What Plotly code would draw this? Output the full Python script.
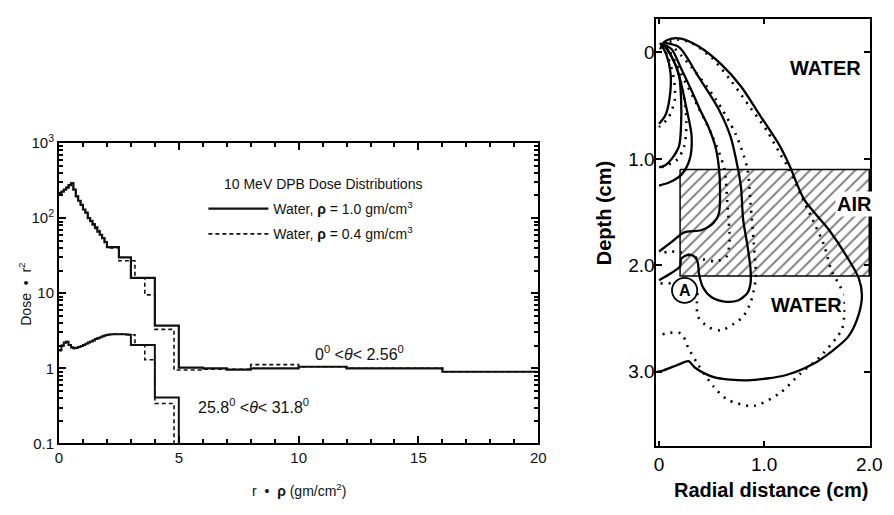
import plotly.graph_objects as go

# ---------------- Left panel data (step histograms) ----------------
up_edges_solid = [0, 0.1, 0.2, 0.3, 0.4, 0.5, 0.6, 0.7, 0.8, 0.9, 1.0, 1.1, 1.2, 1.3, 1.4, 1.5,
                  1.6, 1.7, 1.8, 1.9, 2.0, 2.5, 3.0, 4.0, 5.0, 6.0, 7.0, 8.0, 10.0, 12.0, 16.0, 20.0]
up_vals_solid = [215, 225, 240, 255, 275, 290, 240, 195, 170, 150, 130, 118, 100, 92, 82, 75,
                 66, 60, 54, 48, 41, 30, 16, 3.7, 1.02, 1.0, 0.96, 1.0, 1.05, 1.0, 0.9]

up_edges_dash = [0, 0.1, 0.2, 0.3, 0.4, 0.5, 0.6, 0.7, 0.8, 0.9, 1.0, 1.1, 1.2, 1.3, 1.4, 1.5,
                 1.6, 1.7, 1.8, 1.9, 2.0, 2.5, 3.17, 3.58, 4.0, 4.8, 6.0, 7.0, 8.0, 10.0, 12.0, 16.0, 20.0]
up_vals_dash = [212, 228, 238, 258, 272, 292, 235, 198, 168, 152, 135, 115, 102, 90, 84, 73,
                68, 58, 55, 47, 40, 27, 16, 9.5, 3.3, 0.95, 0.97, 0.97, 1.12, 1.05, 1.0, 0.9]

lo_edges_solid = [0, 0.1, 0.2, 0.3, 0.4, 0.5, 0.6, 0.7, 0.8, 0.9, 1.0, 1.1, 1.2, 1.3, 1.4, 1.5,
                  1.6, 1.7, 1.8, 1.9, 2.0, 2.1, 2.2, 2.3, 2.4, 2.5, 2.6, 2.7, 2.8, 2.9, 3.0,
                  4.0, 5.0, 20.0]
lo_vals_solid = [1.75, 2.0, 2.2, 2.25, 2.05, 1.9, 1.85, 1.88, 1.92, 1.98, 2.05, 2.12, 2.2, 2.28,
                 2.35, 2.45, 2.52, 2.6, 2.68, 2.75, 2.8, 2.82, 2.85, 2.85, 2.85, 2.85, 2.85, 2.85,
                 2.83, 2.8, 2.05, 0.41, 0.02]

lo_edges_dash = [0, 0.1, 0.2, 0.3, 0.4, 0.5, 0.6, 0.7, 0.8, 0.9, 1.0, 1.1, 1.2, 1.3, 1.4, 1.5,
                 1.6, 1.7, 1.8, 1.9, 2.0, 2.1, 2.2, 2.3, 2.4, 2.5, 2.6, 2.7, 2.8, 2.9, 3.0,
                 3.17, 3.58, 4.0, 4.8, 20.0]
lo_vals_dash = [1.72, 2.02, 2.18, 2.27, 2.03, 1.9, 1.84, 1.87, 1.93, 1.97, 2.06, 2.1, 2.21, 2.27,
                2.36, 2.44, 2.53, 2.6, 2.67, 2.76, 2.8, 2.83, 2.84, 2.86, 2.85, 2.84, 2.86, 2.85,
                2.82, 2.8, 2.8, 2.05, 1.3, 0.34, 0.02]

left_yticks = [0.1, 1, 10, 100, 1000]
left_yticktext = ["0.1", "1", "10", "10<sup>2</sup>", "10<sup>3</sup>"]
left_xticks = [0, 5, 10, 15, 20]

# ---------------- Right panel data (depth-dose contours) ----------------
# solid contours (x = radial distance cm, d = depth cm)
c1_x = [0.01, 0.07, 0.11, 0.10, 0.06, 0.00]
c1_d = [-0.09, 0.02, 0.20, 0.43, 0.59, 0.67]
c2_x = [0.03, 0.12, 0.19, 0.21, 0.21, 0.19, 0.12, 0.06, 0.00]
c2_d = [-0.09, 0.04, 0.22, 0.45, 0.67, 0.88, 1.00, 1.06, 1.08]
c3_x = [0.06, 0.17, 0.26, 0.31, 0.29, 0.21, 0.10, 0.00]
c3_d = [-0.07, 0.15, 0.52, 0.79, 1.01, 1.15, 1.22, 1.25]
c4_x = [0.05, 0.12, 0.21, 0.31, 0.40, 0.47, 0.54, 0.57, 0.58, 0.57, 0.52, 0.40, 0.24, 0.12, 0.00]
c4_d = [-0.07, -0.03, 0.15, 0.36, 0.56, 0.70, 0.90, 1.09, 1.27, 1.51, 1.60, 1.67, 1.69, 1.78, 1.87]
c5_x = [0.05, 0.19, 0.37, 0.56, 0.68, 0.75, 0.78, 0.80, 0.84, 0.87, 0.87, 0.84, 0.75, 0.62, 0.50,
        0.42, 0.38, 0.37, 0.34, 0.28, 0.21, 0.20, 0.12, 0.00]
c5_d = [-0.09, -0.05, 0.22, 0.52, 0.79, 1.09, 1.27, 1.57, 1.81, 2.03, 2.17, 2.26, 2.33, 2.34, 2.30,
        2.21, 2.08, 1.98, 1.92, 1.90, 1.94, 2.01, 2.07, 2.14]
c6_x = [0.01, 0.05, 0.12, 0.21, 0.37, 0.59, 0.78, 0.96, 1.15, 1.24, 1.38, 1.62, 1.80, 1.90, 1.93,
        1.90, 1.80, 1.64, 1.46, 1.21, 0.84, 0.52, 0.34, 0.28, 0.19, 0.03, -0.02]
c6_d = [-0.03, -0.10, -0.13, -0.13, -0.06, 0.11, 0.32, 0.59, 0.88, 1.06, 1.38, 1.67, 1.94, 2.12, 2.28,
        2.46, 2.67, 2.81, 2.93, 3.03, 3.08, 3.05, 2.96, 2.90, 2.93, 2.99, 3.00]

# dotted contours
p1_x = [0.03, 0.09, 0.14, 0.15, 0.09, 0.00]
p1_d = [-0.07, 0.06, 0.24, 0.44, 0.61, 0.70]
p2_x = [0.06, 0.16, 0.23, 0.26, 0.24, 0.17, 0.07, 0.00]
p2_d = [-0.07, 0.11, 0.38, 0.65, 0.88, 1.01, 1.06, 1.09]
p4_x = [0.07, 0.21, 0.36, 0.50, 0.62, 0.65, 0.67, 0.64, 0.54, 0.36, 0.21, 0.09, 0.00]
p4_d = [-0.07, 0.20, 0.49, 0.77, 1.09, 1.42, 1.78, 1.92, 1.96, 1.93, 1.88, 1.87, 1.90]
p5_x = [0.10, 0.31, 0.54, 0.73, 0.84, 0.87, 0.90, 0.92, 0.90, 0.87, 0.80, 0.71, 0.59, 0.47, 0.37,
        0.36, 0.36, 0.28, 0.12, 0.00]
p5_d = [-0.09, 0.14, 0.44, 0.77, 1.09, 1.42, 1.78, 2.12, 2.24, 2.35, 2.48, 2.55, 2.61, 2.58, 2.48,
        2.35, 2.25, 2.20, 2.17, 2.17]
p6_x = [0.03, 0.17, 0.31, 0.50, 0.68, 0.87, 1.03, 1.15, 1.24, 1.36, 1.46, 1.57, 1.64, 1.74, 1.76,
        1.74, 1.68, 1.52, 1.34, 1.15, 0.90, 0.65, 0.52, 0.37, 0.28, 0.21, 0.06, 0.00]
p6_d = [-0.07, -0.12, -0.09, 0.05, 0.26, 0.52, 0.74, 0.95, 1.10, 1.36, 1.57, 1.81, 2.05, 2.24, 2.48,
        2.60, 2.69, 2.87, 3.02, 3.20, 3.32, 3.26, 3.14, 2.93, 2.78, 2.64, 2.64, 2.66]

air_x = [0.2, 2.0, 2.0, 0.2, 0.2]
air_d = [1.1, 1.1, 2.1, 2.1, 1.1]
right_ticks_y = [0, 1, 2, 3]
right_ticktext_y = ["0", "1.0", "2.0", "3.0"]
right_ticks_x = [0, 1, 2]
right_ticktext_x = ["0", "1.0", "2.0"]
point_A = (0.243, 2.235)

# ---------------- Figure ----------------
W, H = 894, 515
LFONT = "Liberation Sans, Arial, sans-serif"
INK = "#111111"

fig = go.Figure()


def step(edges, vals):
    return list(edges), list(vals) + [vals[-1]]


xs, ys = step(up_edges_solid, up_vals_solid)
fig.add_trace(go.Scatter(x=xs, y=ys, mode="lines", line=dict(color=INK, width=2.2, shape="hv"),
                         name="Water, <b>ρ</b> = 1.0 gm/cm<sup>3</sup>", legendgroup="s",
                         xaxis="x", yaxis="y"))
xs, ys = step(up_edges_dash, up_vals_dash)
fig.add_trace(go.Scatter(x=xs, y=ys, mode="lines",
                         line=dict(color=INK, width=1.6, shape="hv", dash="4px,3px"),
                         name="Water, <b>ρ</b> = 0.4 gm/cm<sup>3</sup>", legendgroup="d",
                         xaxis="x", yaxis="y"))
xs, ys = step(lo_edges_solid, lo_vals_solid)
fig.add_trace(go.Scatter(x=xs, y=ys, mode="lines", line=dict(color=INK, width=2.0, shape="hv"),
                         showlegend=False, xaxis="x", yaxis="y"))
xs, ys = step(lo_edges_dash, lo_vals_dash)
fig.add_trace(go.Scatter(x=xs, y=ys, mode="lines",
                         line=dict(color=INK, width=1.6, shape="hv", dash="4px,3px"),
                         showlegend=False, xaxis="x", yaxis="y"))

# air slab (hatched)
fig.add_trace(go.Scatter(x=air_x, y=air_d, mode="lines", fill="toself",
                         fillpattern=dict(shape="/", fgcolor="black", bgcolor="white",
                                          size=8, solidity=0.24),
                         line=dict(color="black", width=1.5), showlegend=False,
                         xaxis="x2", yaxis="y2", hoverinfo="skip"))

for cx, cd in [(c1_x, c1_d), (c2_x, c2_d), (c3_x, c3_d), (c4_x, c4_d), (c5_x, c5_d), (c6_x, c6_d)]:
    fig.add_trace(go.Scatter(x=cx, y=cd, mode="lines",
                             line=dict(color="black", width=2.3, shape="spline", smoothing=0.8),
                             showlegend=False, xaxis="x2", yaxis="y2"))
for cx, cd in [(p1_x, p1_d), (p2_x, p2_d), (p4_x, p4_d), (p5_x, p5_d), (p6_x, p6_d)]:
    fig.add_trace(go.Scatter(x=cx, y=cd, mode="lines",
                             line=dict(color="black", width=2.6, shape="spline", smoothing=0.8,
                                       dash="2px,6px"),
                             showlegend=False, xaxis="x2", yaxis="y2"))

axis_common = dict(showgrid=False, zeroline=False, showline=True, linecolor="black",
                   mirror="ticks", ticks="inside", tickcolor="black")

fig.update_layout(
    width=W, height=H, margin=dict(l=0, r=0, t=0, b=0),
    paper_bgcolor="white", plot_bgcolor="white",
    font=dict(family=LFONT, color=INK),
    xaxis=dict(domain=[56 / W, 544 / W], range=[0, 20], tickvals=left_xticks,
               ticklen=7, tickwidth=1.5, linewidth=2,
               minor=dict(ticks="inside", dtick=1, ticklen=4, tickcolor="black"),
               tickfont=dict(size=15), **axis_common),
    yaxis=dict(domain=[(H - 449) / H, (H - 137) / H], type="log", range=[-1, 3],
               tickvals=left_yticks, ticktext=left_yticktext, ticklen=7, tickwidth=1.5,
               linewidth=2, minor=dict(ticks="inside", dtick="D1", ticklen=4, tickcolor="black"),
               tickfont=dict(size=15), **axis_common),
    xaxis2=dict(domain=[664 / W, 882 / W], range=[-0.028, 2.009], anchor="y2",
                tickvals=right_ticks_x, ticktext=right_ticktext_x, ticklen=6, tickwidth=1.5,
                linewidth=1.5, tickfont=dict(size=19, color="black"), **axis_common),
    yaxis2=dict(domain=[(H - 452) / H, (H - 8) / H], range=[3.70, -0.317], anchor="x2",
                tickvals=right_ticks_y, ticktext=right_ticktext_y, ticklen=6, tickwidth=1.5,
                linewidth=1.5, tickfont=dict(size=19, color="black"), ticklabelstandoff=-4,
                **axis_common),
    legend=dict(x=203 / W, y=(H - 189) / H, xanchor="left", yanchor="top",
                bgcolor="rgba(0,0,0,0)", font=dict(size=14, color=INK), itemwidth=60,
                tracegroupgap=4),
)

# A circle
ax, ad = point_A
fig.add_shape(type="circle", xref="x2", yref="y2", x0=ax - 0.12, x1=ax + 0.12,
              y0=ad - 0.117, y1=ad + 0.117, line=dict(color="black", width=1.8),
              fillcolor="white", layer="above")

C = dict(xanchor="center", yanchor="middle", showarrow=False)
ann = []
# left panel texts
ann.append(dict(text="10 MeV DPB Dose Distributions", x=325 / W, y=(H - 180) / H,
                xref="paper", yref="paper", font=dict(size=14), **C))
ann.append(dict(text="0<sup>0</sup> &lt;<i>θ</i>&lt; 2.56<sup>0</sup>", x=362 / W, y=(H - 355) / H,
                xref="paper", yref="paper", font=dict(size=16), **C))
ann.append(dict(text="25.8<sup>0</sup> &lt;<i>θ</i>&lt; 31.8<sup>0</sup>", x=254 / W, y=(H - 410) / H,
                xref="paper", yref="paper", font=dict(size=16), **C))
ann.append(dict(text="Dose  •  r<sup>2</sup>", x=22 / W, y=(H - 294) / H, textangle=-90,
                xref="paper", yref="paper", font=dict(size=14), **C))
ann.append(dict(text="r  •  <b>ρ</b> (gm/cm<sup>2</sup>)", x=300 / W, y=(H - 497) / H,
                xref="paper", yref="paper", font=dict(size=14), **C))
# right panel texts
RF = dict(size=20, color="black", family="Liberation Sans, Arial, sans-serif")
ann.append(dict(text="<b>WATER</b>", x=1.58, y=0.15, xref="x2", yref="y2", font=RF, **C))
ann.append(dict(text="<b>AIR</b>", x=1.86, y=1.42, xref="x2", yref="y2", font=RF,
                bgcolor="white", **C))
ann.append(dict(text="<b>WATER</b>", x=1.40, y=2.37, xref="x2", yref="y2", font=RF,
                bgcolor="white", **C))
ann.append(dict(text="<b>A</b>", x=ax, y=ad, xref="x2", yref="y2",
                font=dict(size=16, color="black"), **C))
ann.append(dict(text="<b>Depth (cm)</b>", x=611 / W, y=(H - 210) / H, textangle=-90,
                xref="paper", yref="paper", font=RF, **C))
ann.append(dict(text="<b>Radial distance (cm)</b>", x=781 / W, y=(H - 497) / H,
                xref="paper", yref="paper", font=RF, **C))
fig.update_layout(annotations=ann)

fig.write_html("out.html")
